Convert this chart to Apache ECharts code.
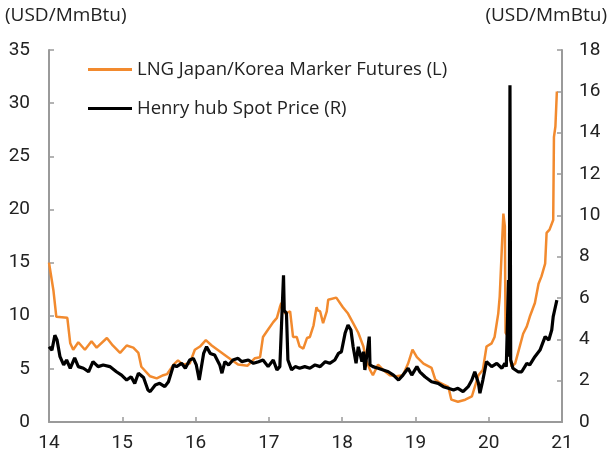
<!DOCTYPE html>
<html>
<head>
<meta charset="utf-8">
<script src="https://cdn.jsdelivr.net/npm/echarts@6/dist/echarts.min.js"></script>
<style>
  html, body { margin: 0; padding: 0; background: #fff; }
  #chart { width: 610px; height: 459px; }
</style>
</head>
<body>
<div id="chart"></div>
<script>
// x values are years as 14 = 2014
var lngDates = [14.00, 14.06, 14.10, 14.25, 14.29, 14.33, 14.40, 14.49, 14.58, 14.65, 14.79, 14.87, 14.97,
  15.06, 15.15, 15.22, 15.26, 15.38, 15.47, 15.56, 15.61, 15.70, 15.76, 15.83, 15.92, 15.99,
  16.06, 16.14, 16.22, 16.44, 16.58, 16.71, 16.81, 16.88, 16.92, 16.99,
  17.06, 17.11, 17.15, 17.17, 17.22, 17.29, 17.33, 17.38, 17.42, 17.47, 17.52, 17.56, 17.61, 17.65, 17.67, 17.70, 17.74, 17.79, 17.81, 17.92,
  18.01, 18.08, 18.15, 18.22, 18.29, 18.33, 18.38, 18.42, 18.49, 18.56, 18.65, 18.74, 18.83, 18.90, 18.96,
  19.02, 19.11, 19.22, 19.27, 19.33, 19.45, 19.49, 19.58, 19.68, 19.77, 19.81, 19.86, 19.92, 19.97,
  20.04, 20.08, 20.13, 20.15, 20.18, 20.20, 20.22, 20.23, 20.27, 20.31, 20.36, 20.40, 20.47, 20.52, 20.56, 20.63, 20.68, 20.72, 20.77, 20.79, 20.83, 20.88, 20.89, 20.91, 20.93]
var lngValues = [15.0, 12.4, 9.9, 9.8, 7.4, 6.8, 7.5, 6.8, 7.6, 7.0, 7.9, 7.2, 6.5,
  7.2, 7.0, 6.5, 5.2, 4.3, 4.1, 4.4, 4.5, 5.4, 5.8, 5.4, 5.5, 6.8,
  7.1, 7.7, 7.2, 6.1, 5.4, 5.3, 6.0, 6.1, 8.0, 8.7,
  9.4, 9.8, 10.8, 11.2, 10.2, 10.4, 8.0, 8.0, 7.1, 6.9, 7.9, 8.0, 9.1, 10.8, 10.5, 10.4, 9.3, 10.4, 11.5, 11.7,
  10.8, 10.2, 9.3, 8.4, 7.1, 5.8, 4.9, 4.4, 5.4, 4.9, 4.4, 4.3, 4.4, 5.5, 6.8,
  6.1, 5.5, 5.1, 4.0, 3.7, 3.3, 2.1, 1.9, 2.1, 2.4, 3.3, 4.4, 4.9, 7.1,
  7.4, 8.0, 10.2, 11.8, 16.5, 19.6, 18.4, 8.4, 8.0, 5.2, 5.5, 6.5, 8.3, 9.0, 9.9, 11.2, 13.0, 13.7, 14.9, 17.8, 18.1, 19.0, 26.8, 27.8, 31.1]

var hhDates = [14.00, 14.04, 14.08, 14.11, 14.15, 14.20, 14.24, 14.29, 14.35, 14.40, 14.47, 14.54, 14.60, 14.67, 14.74, 14.83, 14.92, 14.99,
  15.06, 15.12, 15.17, 15.22, 15.29, 15.35, 15.38, 15.45, 15.51, 15.58, 15.63, 15.70, 15.74, 15.81, 15.86, 15.92, 15.97,
  16.01, 16.05, 16.11, 16.15, 16.20, 16.26, 16.33, 16.36, 16.40, 16.45, 16.51, 16.58, 16.63, 16.72, 16.79, 16.86, 16.92, 16.99,
  17.06, 17.11, 17.15, 17.20, 17.21, 17.24, 17.26, 17.31, 17.36, 17.42, 17.49, 17.56, 17.63, 17.70, 17.77, 17.83, 17.90, 17.95, 17.99,
  18.04, 18.08, 18.12, 18.15, 18.19, 18.22, 18.27, 18.29, 18.31, 18.34, 18.37, 18.38, 18.42, 18.49, 18.56, 18.63, 18.70, 18.77, 18.83, 18.90, 18.95,
  19.02, 19.06, 19.13, 19.22, 19.31, 19.38, 19.45, 19.52, 19.58, 19.65, 19.72, 19.77, 19.81, 19.86, 19.88, 19.92, 19.97,
  20.04, 20.11, 20.18, 20.22, 20.24, 20.27, 20.28, 20.29, 20.30, 20.33, 20.40, 20.45, 20.52, 20.56, 20.63, 20.70, 20.77, 20.82, 20.86, 20.88, 20.90, 20.93]
var hhValues = [3.64, 3.48, 4.2, 3.97, 3.16, 2.76, 3.0, 2.6, 3.1, 2.68, 2.6, 2.43, 2.92, 2.68, 2.76, 2.68, 2.43, 2.27,
  2.03, 2.19, 1.87, 2.36, 2.15, 1.55, 1.47, 1.79, 1.87, 1.71, 1.95, 2.76, 2.68, 2.84, 2.6, 3.0, 3.08,
  2.76, 2.03, 3.32, 3.64, 3.32, 3.24, 2.76, 2.36, 2.92, 2.76, 3.0, 3.08, 2.92, 3.0, 2.84, 2.92, 3.0, 2.68,
  3.0, 2.52, 2.68, 7.1, 5.4, 5.26, 3.0, 2.52, 2.68, 2.6, 2.68, 2.6, 2.76, 2.68, 2.92, 2.84, 3.0, 3.32, 3.4,
  4.29, 4.69, 4.45, 3.64, 2.84, 3.64, 2.92, 3.4, 2.52, 3.32, 4.13, 2.76, 2.68, 2.6, 2.52, 2.43, 2.27, 2.03, 2.27, 2.6, 2.27,
  2.68, 2.43, 2.19, 1.95, 1.87, 1.71, 1.63, 1.55, 1.63, 1.47, 1.71, 2.03, 2.43, 1.87, 1.39, 2.03, 2.92,
  2.68, 2.84, 2.6, 2.84, 2.68, 6.87, 3.16, 16.3, 3.0, 2.6, 2.43, 2.43, 2.84, 2.76, 3.16, 3.48, 4.13, 3.97, 4.45, 5.1, 5.42, 5.9]

var yearTicks = ['14', '15', '16', '17', '18', '19', '20', '21']

var chart = echarts.init(document.getElementById('chart'))

var axisGrey = '#9a9a9a'
var labelFont = 'Roboto, "Noto Sans", sans-serif'
var textFont = '"Open Sans", Roboto, sans-serif'

var option = {
  animation: false,
  textStyle: { fontFamily: labelFont },
  grid: { left: 49, right: 48, top: 50, bottom: 37 },
  legend: {
    orient: 'vertical',
    left: 83,
    top: 55,
    itemGap: 20,
    itemWidth: 44,
    itemHeight: 20,
    textStyle: { fontSize: 18.5, color: '#222', fontFamily: textFont },
    data: [
      { name: 'LNG Japan/Korea Marker Futures (L)', icon: 'path://M0,8.5 L44,8.5 L44,11.5 L0,11.5 Z', itemStyle: { color: '#f28a2e' } },
      { name: 'Henry hub Spot Price (R)', icon: 'path://M0,8.5 L44,8.5 L44,11.5 L0,11.5 Z', itemStyle: { color: '#000' } }
    ]
  },
  graphic: [
    { type: 'text', left: 5, top: 6, style: { text: '(USD/MmBtu)', fontSize: 19, fill: '#222', fontFamily: textFont } },
    { type: 'text', right: 3, top: 6, style: { text: '(USD/MmBtu)', fontSize: 19, fill: '#222', fontFamily: textFont } }
  ],
  xAxis: {
    type: 'value',
    min: 14,
    max: 21,
    interval: 1,
    axisLine: { lineStyle: { color: axisGrey, width: 2 } },
    axisTick: { inside: true, length: 5, lineStyle: { color: axisGrey, width: 1.5 } },
    splitLine: { show: false },
    axisLabel: {
      fontSize: 19,
      color: '#222',
      margin: 12,
      formatter: function (v) { return yearTicks[Math.round(v) - 14] }
    }
  },
  yAxis: [
    {
      type: 'value',
      min: 0,
      max: 35,
      interval: 5,
      axisLine: { show: true, lineStyle: { color: axisGrey, width: 2 } },
      axisTick: { show: true, inside: true, length: 5, lineStyle: { color: axisGrey, width: 1.5 } },
      splitLine: { show: false },
      axisLabel: { fontSize: 19, color: '#222', margin: 19 }
    },
    {
      type: 'value',
      min: 0,
      max: 18,
      interval: 2,
      position: 'right',
      axisLine: { show: true, lineStyle: { color: axisGrey, width: 2 } },
      axisTick: { show: true, inside: true, length: 5, lineStyle: { color: axisGrey, width: 1.5 } },
      splitLine: { show: false },
      axisLabel: { fontSize: 19, color: '#222', margin: 17 }
    }
  ],
  series: [
    {
      name: 'LNG Japan/Korea Marker Futures (L)',
      type: 'line',
      yAxisIndex: 0,
      showSymbol: false,
      lineStyle: { color: '#f28a2e', width: 2.5 },
      itemStyle: { color: '#f28a2e' },
      z: 2,
      data: lngDates.map(function (d, i) { return [d, lngValues[i]] })
    },
    {
      name: 'Henry hub Spot Price (R)',
      type: 'line',
      yAxisIndex: 1,
      showSymbol: false,
      lineStyle: { color: '#000', width: 3.2 },
      itemStyle: { color: '#000' },
      z: 3,
      data: hhDates.map(function (d, i) { return [d, hhValues[i]] })
    }
  ]
}

chart.setOption(option)
</script>
</body>
</html>
